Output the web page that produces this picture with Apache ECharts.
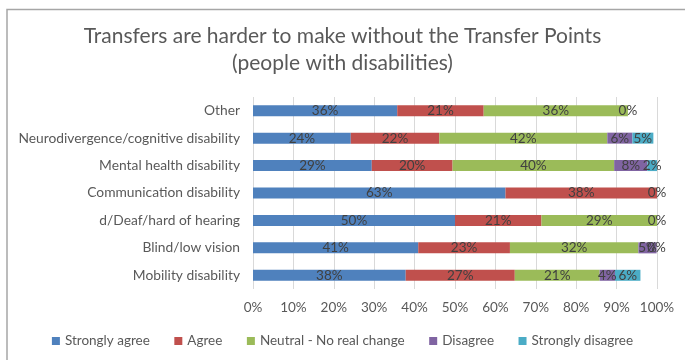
<!DOCTYPE html>
<html><head><meta charset="utf-8">
<script src="https://cdn.jsdelivr.net/npm/echarts@6/dist/echarts.min.js"></script>
<style>html,body{margin:0;padding:0;background:#fff}#c{width:685px;height:360px}</style>
</head><body><div id="c"></div>
<script>
const categories = ["Mobility disability","Blind/low vision","d/Deaf/hard of hearing","Communication disability","Mental health disability","Neurodivergence/cognitive disability","Other"];
const seriesNames = ["Strongly agree","Agree","Neutral - No real change","Disagree","Strongly disagree"];
const stronglyAgree = [37.8, 40.9, 50.0, 62.5, 29.4, 24.2, 35.7];
const agree = [27.0, 22.7, 21.4, 37.5, 20.0, 21.9, 21.4];
const neutral = [21.0, 31.8, 28.6, null, 40.0, 41.6, 35.7];
const disagree = [3.8, 4.5, 0, 0, 8.2, 6.2, 0];
const stronglyDisagree = [6.3, 0, null, null, 2.4, 5.2, null];
const xTicks = [0,10,20,30,40,50,60,70,80,90,100];
const colors = ["#4f81bd","#c0504d","#9bbb59","#8064a2","#4bacc6"];
const FONT = "Lato";
const values = [stronglyAgree, agree, neutral, disagree, stronglyDisagree];
const chart = echarts.init(document.getElementById('c'), null, {renderer:'canvas'});
chart.setOption({
  animation:false,
  textStyle:{fontFamily:FONT},
  graphic:[{type:'rect',shape:{x:7,y:9.5,width:1000,height:1000},style:{fill:'none',stroke:'#a6a6a6',lineWidth:1.5},silent:true}],
  title:{text:"Transfers are harder to make without the Transfer Points\n(people with disabilities)",left:'center',top:18,
    textStyle:{fontFamily:FONT,fontSize:21,fontWeight:'normal',color:'#595959',lineHeight:27}},
  legend:{bottom:7,left:'center',itemWidth:8,itemHeight:8,itemGap:24.5,icon:'rect',
    textStyle:{fontFamily:FONT,fontSize:13.5,color:'#595959'},data:seriesNames},
  grid:{left:253,right:28,top:97,bottom:71,containLabel:false},
  xAxis:{type:'value',min:0,max:100,interval:10,
    axisLabel:{formatter:v=>v+'%',fontFamily:FONT,fontSize:13.5,color:'#595959',margin:12},
    splitLine:{show:true,lineStyle:{color:'#d9d9d9',width:1}},axisLine:{show:false},axisTick:{show:false}},
  yAxis:{type:'category',data:categories,
    axisLabel:{fontFamily:FONT,fontSize:13.8,color:'#595959',margin:13},
    axisLine:{show:false},axisTick:{show:false},splitLine:{show:false}},
  series: seriesNames.map((n,i)=>({
    name:n,type:'bar',stack:'all',barWidth:11,data:values[i],
    itemStyle:{color:colors[i]},
    label:{show:true,position:'inside',formatter:p=>Math.round(p.value)+'%',fontFamily:FONT,fontSize:13.5,color:'#404040'}
  }))
});
</script></body></html>
